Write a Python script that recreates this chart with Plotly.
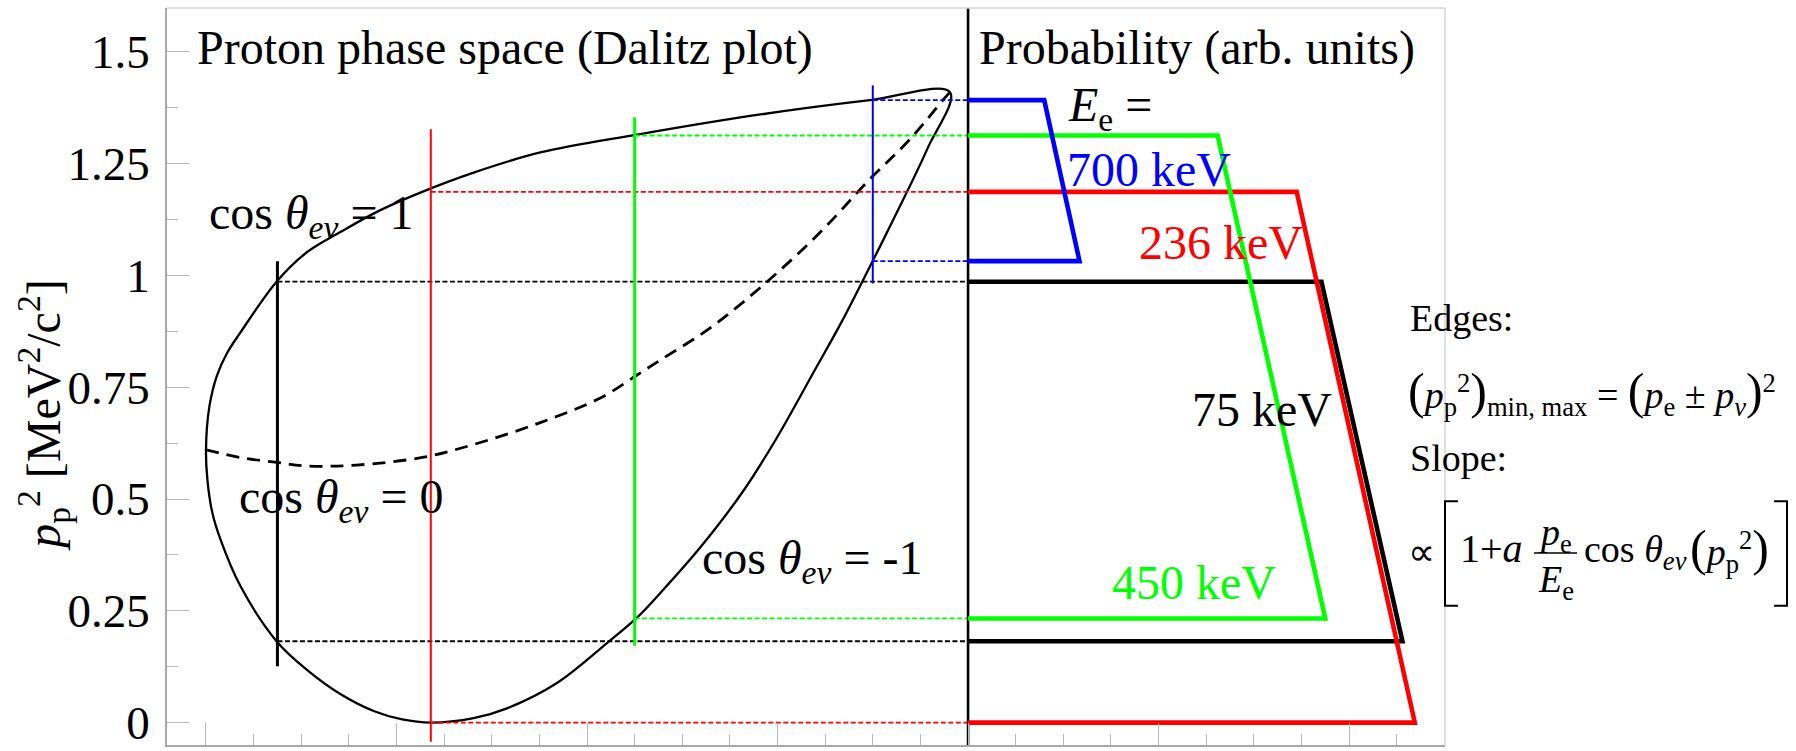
import plotly.graph_objects as go

# ---------------- data ----------------
# Electron kinetic energies of the four slices (keV)
E_KEV = [75, 236, 450, 700]
# Proton momentum-squared limits for each slice (MeV^2/c^2)
P2_MAX = [0.986, 1.187, 1.313, 1.392]
P2_MIN = [0.182, 0.0, 0.233, 1.032]
# Extent of the vertical slice markers (MeV^2/c^2)
CUT_TOP = [1.032, 1.327, 1.354, 1.425]
CUT_BOTTOM = [0.126, -0.043, 0.172, 0.982]
# Probability (arb. units) at the upper and lower edge of each slice
PROB_AT_MAX = [371, 345, 262, 80]
PROB_AT_MIN = [456, 469, 375, 117]

# Dalitz boundary, cos(theta_ev) = +1 (upper edge)
UPPER_X = [0, 3.5, 11.5, 22, 36, 74.5, 106, 141, 182, 227, 281, 351, 453, 582, 697,
           781]
UPPER_Y = [0.611, 0.706, 0.776, 0.826, 0.872, 0.987, 1.052, 1.097, 1.145, 1.187,
           1.230, 1.275, 1.315, 1.360, 1.392, 1.410]
# Dalitz boundary, cos(theta_ev) = -1 (lower edge)
LOWER_X = [0, 1.5, 6.6, 15, 36, 74.5, 106, 141, 176, 206, 236, 281, 316, 368, 421,
           453, 477, 519, 564, 599, 638, 667, 697, 722, 757, 781]
LOWER_Y = [0.611, 0.543, 0.470, 0.411, 0.306, 0.181, 0.118, 0.064, 0.026, 0.007,
           0.0, 0.010, 0.032, 0.088, 0.178, 0.236, 0.290, 0.392, 0.518, 0.636,
           0.784, 0.895, 1.020, 1.127, 1.282, 1.410]
# cos(theta_ev) = 0
MID_X = [0, 36, 74.5, 106, 158, 227, 281, 351, 414, 453, 477, 529, 589, 645, 697,
         739, 774, 781]
MID_Y = [0.610, 0.593, 0.582, 0.574, 0.576, 0.593, 0.622, 0.671, 0.726, 0.778,
         0.811, 0.882, 0.986, 1.097, 1.2155, 1.3045, 1.393, 1.410]

COS_VALUES = ["1", "0", "-1"]

Y_TICKS = [0, 0.25, 0.5, 0.75, 1, 1.25, 1.5]
Y_TICK_TEXT = ["0", "0.25", "0.5", "0.75", "1", "1.25", "1.5"]
Y_MINOR = [0.125, 0.375, 0.625, 0.875, 1.125, 1.375]
X_TICKS = [0, 200, 400, 600, 800, 1000, 1200]
X_MINOR = [50, 100, 150, 250, 300, 350, 450, 500, 550, 650, 700, 750, 850, 900,
           950, 1050, 1100, 1150, 1250, 1300]

# ---------------- layout constants ----------------
W, H = 1796, 751
ML, MR, MT, MB = 167, 351, 8, 2
PW = W - ML - MR
PH = H - MT - MB
X_RANGE = [-40.93, 1300.7]
Y_RANGE = [-0.05005, 1.5981]
DIVIDER = 800  # x where the probability panel begins

FONT = "Liberation Serif, Times New Roman, serif"
COLORS = ["#000000", "#ff0000", "#00ff00", "#0000ff"]
CUT_WIDTHS = [3, 2, 3, 2]
DRAW_ORDER = [0, 1, 2, 3]


def paper_x(px):
    return (px - ML) / PW


def paper_y(py):
    return (H - MB - py) / PH


def center_y(base, size, sub=False, sup=False):
    top = base - 0.891 * size
    bot = base + 0.216 * size
    if sub:
        bot = max(bot, base + 0.21 * size + 0.7 * 0.216 * size)
    if sup:
        top = min(top, base - 0.42 * size - 0.7 * 0.891 * size)
    return (top + bot) / 2


annotations = []


def add_text(text, px, base, size, color="black", sub=False, sup=False,
             xanchor="left"):
    annotations.append(dict(
        text=text, x=paper_x(px), y=paper_y(center_y(base, size, sub, sup)),
        xref="paper", yref="paper", xanchor=xanchor, yanchor="middle",
        showarrow=False, font=dict(family=FONT, size=size, color=color),
    ))


fig = go.Figure()

# Dalitz boundary: apex -> upper edge -> left tip -> lower edge -> apex
bx = UPPER_X[::-1] + LOWER_X[1:]
by = UPPER_Y[::-1] + LOWER_Y[1:]
fig.add_trace(go.Scatter(x=bx, y=by, mode="lines",
                         line=dict(color="black", width=2.3, shape="spline",
                                   smoothing=1.0),
                         hoverinfo="skip"))
# cos(theta) = 0 curve
fig.add_trace(go.Scatter(x=MID_X, y=MID_Y, mode="lines",
                         line=dict(color="black", width=2.8, dash="13px,8px",
                                   shape="spline", smoothing=1.0),
                         hoverinfo="skip"))

# dashed connectors from the slice edges to the probability panel
for i in range(len(E_KEV)):
    for yv in (P2_MAX[i], P2_MIN[i]):
        fig.add_trace(go.Scatter(x=[E_KEV[i], DIVIDER], y=[yv, yv], mode="lines",
                                 line=dict(color=COLORS[i], width=1.8,
                                           dash="5px,2.5px"),
                                 hoverinfo="skip"))

# vertical slice markers
for i in range(len(E_KEV)):
    fig.add_trace(go.Scatter(x=[E_KEV[i], E_KEV[i]], y=[CUT_BOTTOM[i], CUT_TOP[i]],
                             mode="lines",
                             line=dict(color=COLORS[i], width=CUT_WIDTHS[i]),
                             hoverinfo="skip"))

# panel divider
fig.add_trace(go.Scatter(x=[DIVIDER, DIVIDER], y=Y_RANGE, mode="lines",
                         line=dict(color="black", width=2.6), hoverinfo="skip"))

# probability distributions (trapezoids) on the overlay axis
for i in DRAW_ORDER:
    fig.add_trace(go.Scatter(
        x=[0, PROB_AT_MAX[i], PROB_AT_MIN[i], 0],
        y=[P2_MAX[i], P2_MAX[i], P2_MIN[i], P2_MIN[i]],
        mode="lines", xaxis="x2",
        line=dict(color=COLORS[i], width=4.6),
        hoverinfo="skip"))

# ---------------- text ----------------
add_text("Proton phase space (Dalitz plot)", 195, 64, 48)
add_text("Probability (arb. units)", 977, 64, 48)

cos_pos = [(207, 230), (237, 515), (700, 577)]
for val, (px, base) in zip(COS_VALUES, cos_pos):
    add_text(f"cos <i>θ</i><sub><i>eν</i></sub> = {val}", px, base, 48, sub=True)

add_text("<i>E</i><sub>e</sub> =", 1066, 121, 48, sub=True)
e_label_pos = [(1190, 428), (1137, 260), (1110, 602), (1065, 187)]
for i, (px, base) in enumerate(e_label_pos):
    add_text(f"{E_KEV[i]} keV", px, base, 48, color=COLORS[i])

BIG = '<span style="font-size:50px">'
add_text("Edges:", 1408, 333, 38)
add_text(f"{BIG}(</span><i>p</i><sub>p</sub><sup>2</sup>{BIG})</span>"
         "<sub>min, max</sub> = "
         f"{BIG}(</span><i>p</i><sub>e</sub> ± <i>p</i><sub><i>ν</i></sub>"
         f"{BIG})</span><sup>2</sup>",
         1406, 408, 38, sub=True, sup=True)
add_text("Slope:", 1408, 473, 38)
add_text("∝", 1406, 568, 38)
add_text("1+<i>a</i>", 1458, 565, 40)
add_text("<i>p</i><sub>e</sub>", 1536, 548, 38, sub=True)
add_text("<i>E</i><sub>e</sub>", 1536, 595, 38, sub=True)
add_text("cos <i>θ</i><sub><i>eν</i></sub>", 1582, 565, 38, sub=True)
add_text(f"{BIG}(</span><i>p</i><sub>p</sub><sup>2</sup>{BIG})</span>",
         1688, 565, 38, sub=True, sup=True)

# y-axis title
annotations.append(dict(
    text="<i>p</i><sub>p</sub><sup>2</sup> [MeV<sup>2</sup>/c<sup>2</sup>]",
    x=paper_x(44), y=paper_y(418), xref="paper", yref="paper",
    xanchor="center", yanchor="middle", textangle=-90, showarrow=False,
    font=dict(family=FONT, size=48, color="black")))


def path(points):
    return "M " + " L ".join(f"{paper_x(a):.5f},{paper_y(b):.5f}" for a, b in points)


shapes = [
    # light top and right frame edges
    dict(type="line", xref="paper", yref="paper", x0=0, x1=1, y0=1, y1=1,
         line=dict(color="#d6d6d6", width=1.5)),
    dict(type="line", xref="paper", yref="paper", x0=1, x1=1, y0=0, y1=1,
         line=dict(color="#d6d6d6", width=1.5)),
    # brackets and fraction bar of the slope formula
    dict(type="path", xref="paper", yref="paper",
         path=path([(1458, 504), (1445, 504), (1445, 609), (1458, 609)]),
         line=dict(color="black", width=2)),
    dict(type="path", xref="paper", yref="paper",
         path=path([(1774, 504), (1787, 504), (1787, 609), (1774, 609)]),
         line=dict(color="black", width=2)),
    dict(type="line", xref="paper", yref="paper",
         x0=paper_x(1534), x1=paper_x(1577), y0=paper_y(556), y1=paper_y(556),
         line=dict(color="black", width=1.6)),
]

tick_color = "#b8b8b8"
fig.update_layout(
    width=W, height=H,
    margin=dict(l=ML, r=MR, t=MT, b=MB, pad=0),
    paper_bgcolor="white", plot_bgcolor="white",
    showlegend=False,
    font=dict(family=FONT, color="black"),
    xaxis=dict(range=X_RANGE, showgrid=False, zeroline=False, showticklabels=False,
               tickmode="array", tickvals=X_TICKS, ticks="inside", ticklen=22,
               tickcolor=tick_color, tickwidth=1,
               minor=dict(tickmode="array", tickvals=X_MINOR, ticks="inside",
                          ticklen=11, tickcolor=tick_color, tickwidth=1,
                          showgrid=False),
               showline=True, linecolor="#a8a8a8", linewidth=1.5),
    xaxis2=dict(range=[X_RANGE[0] - DIVIDER, X_RANGE[1] - DIVIDER],
                overlaying="x", visible=False),
    yaxis=dict(range=Y_RANGE, showgrid=False, zeroline=False,
               tickmode="array", tickvals=Y_TICKS, ticktext=Y_TICK_TEXT,
               ticks="inside", ticklen=22, tickcolor=tick_color, tickwidth=1,
               minor=dict(tickmode="array", tickvals=Y_MINOR, ticks="inside",
                          ticklen=11, tickcolor=tick_color, tickwidth=1,
                          showgrid=False),
               tickfont=dict(family=FONT, size=47, color="black"),
               ticklabelstandoff=6, ticklabeloverflow="allow",
               showline=True, linecolor="#a8a8a8", linewidth=1.5),
    annotations=annotations,
    shapes=shapes,
)

fig.write_html("out.html")
